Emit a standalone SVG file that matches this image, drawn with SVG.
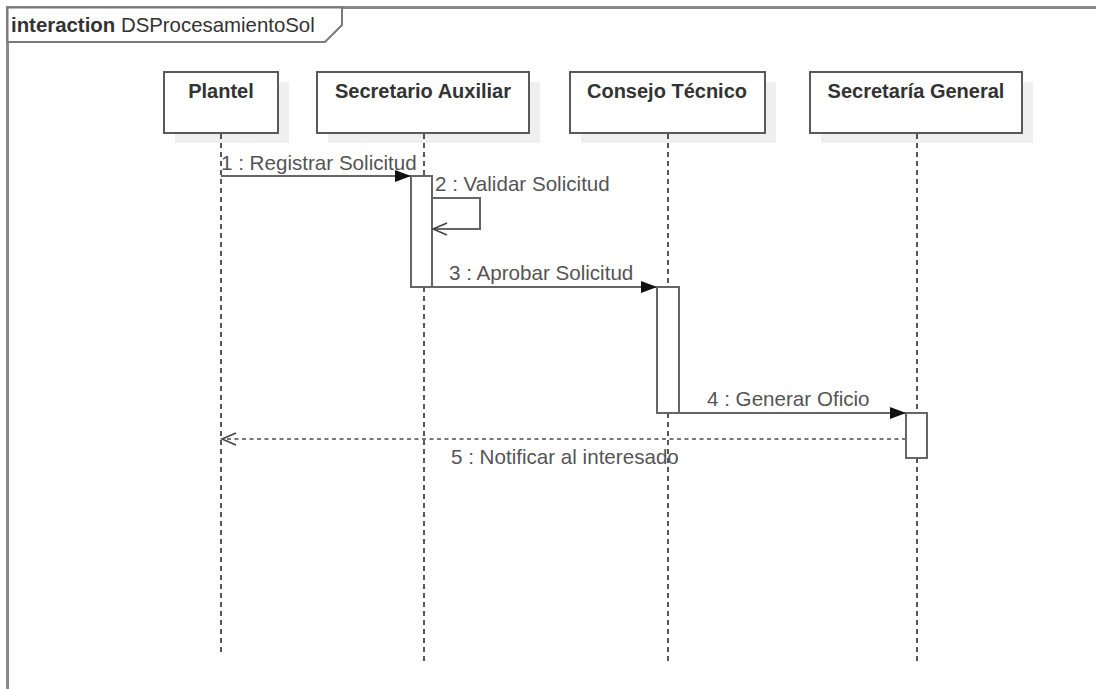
<svg xmlns="http://www.w3.org/2000/svg" width="1096" height="689" viewBox="0 0 1096 689">
  <style>
    .frame { fill: none; stroke: #8a8a8a; stroke-width: 3; }
    .tab { fill: #ffffff; stroke: #7a7a7a; stroke-width: 2; }
    .title { font-family: "Liberation Sans", Arial, sans-serif; font-size: 20.4px; fill: #333333; }
    .shadow { fill: #efefef; }
    .box { fill: #ffffff; stroke: #5a5a5a; stroke-width: 2; }
    .name { font-family: "Liberation Sans", Arial, sans-serif; font-size: 20px; font-weight: bold; fill: #333333; text-anchor: middle; }
    .life { stroke: #111111; stroke-width: 1.4; stroke-dasharray: 5 4; fill: none; }
    .act { fill: #ffffff; stroke: #666666; stroke-width: 2; }
    .msg { stroke: #666666; stroke-width: 2; fill: none; }
    .ret { stroke: #777777; stroke-width: 2; stroke-dasharray: 4 3.5; fill: none; }
    .label { font-family: "Liberation Sans", Arial, sans-serif; font-size: 20.6px; fill: #555555; }
  </style>
  <defs>
    <marker id="filled" markerUnits="userSpaceOnUse" markerWidth="17" markerHeight="13" refX="16" refY="6" orient="auto" overflow="visible">
      <path d="M0,0 L16,6 L0,12 z" fill="#111111"/>
    </marker>
    <marker id="open" markerUnits="userSpaceOnUse" markerWidth="16" markerHeight="14" refX="14" refY="6" orient="auto" overflow="visible">
      <path d="M0,0 L14,6 L0,12" fill="none" stroke="#444444" stroke-width="1.6"/>
    </marker>
  </defs>

  <rect width="1096" height="689" fill="#ffffff"/>

  <!-- interaction frame with its name tab -->
  <g id="frame">
    <path class="frame" d="M7.5,689 V7.5 H1100"/>
    <path class="tab" d="M7.5,7.5 H342 V25 L325,42 H7.5 Z"/>
    <text class="title" x="11" y="32"><tspan font-weight="bold">interaction</tspan> DSProcesamientoSol</text>
  </g>

  <!-- lifelines -->
  <g id="plantel">
    <rect class="shadow" x="175" y="82" width="114" height="61"/>
    <rect class="box" x="164" y="72" width="114" height="61"/>
    <text class="name" x="221" y="98">Plantel</text>
    <line class="life" x1="221" y1="134" x2="221" y2="654"/>
  </g>

  <g id="secretario-auxiliar">
    <rect class="shadow" x="328" y="82" width="212" height="61"/>
    <rect class="box" x="317" y="72" width="212" height="61"/>
    <text class="name" x="423" y="98">Secretario Auxiliar</text>
    <line class="life" x1="424" y1="134" x2="424" y2="663"/>
    <rect class="act" x="411" y="176" width="21" height="111"/>
  </g>

  <g id="consejo-tecnico">
    <rect class="shadow" x="581" y="82" width="195" height="61"/>
    <rect class="box" x="570" y="72" width="195" height="61"/>
    <text class="name" x="667" y="98">Consejo Técnico</text>
    <line class="life" x1="668" y1="134" x2="668" y2="663"/>
    <rect class="act" x="657" y="287" width="22" height="126"/>
  </g>

  <g id="secretaria-general">
    <rect class="shadow" x="821" y="82" width="212" height="61"/>
    <rect class="box" x="810" y="72" width="212" height="61"/>
    <text class="name" x="916" y="98">Secretaría General</text>
    <line class="life" x1="917" y1="134" x2="917" y2="663"/>
    <rect class="act" x="906" y="413" width="21" height="45"/>
  </g>

  <!-- messages -->
  <g id="connectors">
    <line class="msg" x1="221" y1="176" x2="411" y2="176" marker-end="url(#filled)"/>
    <text class="label" x="221" y="170">1 : Registrar Solicitud</text>

    <path class="msg" d="M432,198 H480 V229 H433" marker-end="url(#open)"/>
    <text class="label" x="435" y="191">2 : Validar Solicitud</text>

    <line class="msg" x1="411" y1="287" x2="657" y2="287" marker-end="url(#filled)"/>
    <text class="label" x="449" y="280">3 : Aprobar Solicitud</text>

    <line class="msg" x1="657" y1="413" x2="906" y2="413" marker-end="url(#filled)"/>
    <text class="label" x="707" y="406">4 : Generar Oficio</text>

    <line class="ret" x1="906" y1="439" x2="222" y2="439" marker-end="url(#open)"/>
    <text class="label" x="451" y="464">5 : Notificar al interesado</text>
  </g>
</svg>
